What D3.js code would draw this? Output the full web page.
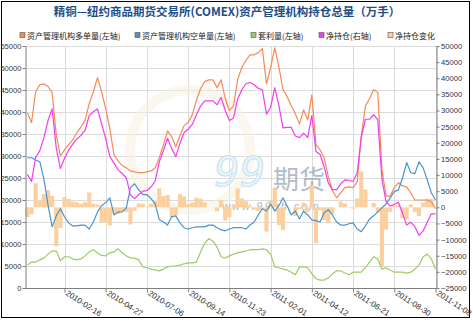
<!DOCTYPE html>
<html>
<head>
<meta charset="utf-8">
<script src="https://cdn.jsdelivr.net/npm/d3@7"></script>
<style>
  html, body { margin: 0; padding: 0; background: #fff; }
  svg { display: block; font-family: "Liberation Sans", Arial, sans-serif; }
</style>
</head>
<body>
<svg id="chart" width="473" height="322"></svg>
<script>
// Weekly COMEX copper report dates (Tuesdays), first and count
const firstDate = "2009-12-15";
const weeks = 100;

// Managed-money long positions (left axis)
const longPos = [
  39800,37600,44600,46200,46400,45800,44400,34800,30000,31400,
  32600,33700,35300,36600,38200,41900,44600,47800,44600,40700,
  36200,30300,28900,27800,27300,26600,26400,26200,26200,26400,
  26600,27300,29600,32600,35700,34400,32100,34600,36900,37600,
  39400,42600,45300,46900,47300,47300,45500,47300,43000,40300,
  41400,47300,50100,51700,53000,53000,53500,54400,46400,50100,
  54600,50300,45100,43500,41400,39600,37300,40500,38200,43900,
  32600,31400,29600,25300,22100,20500,21600,22800,23000,22800,
  24100,34600,41400,43000,45100,44400,26900,20900,20900,22800,
  23900,23200,23000,21600,20000,20000,20000,20000,19600,18000
];

// Managed-money short positions (left axis)
const shortPos = [
  29600,29600,29100,28700,24800,18900,13900,16400,18000,16200,
  14800,14100,14100,14300,14300,13400,15000,17300,18700,19400,
  20500,16600,17300,17300,18200,22800,23700,22300,21200,21200,
  20300,19100,15500,15000,14300,16200,16400,14800,13700,13400,
  13700,13900,13900,13900,14300,14300,13700,13200,13000,13400,
  13700,13700,13700,13400,14300,15000,16600,18000,17500,19100,
  17500,18700,20500,18700,16600,17500,15700,17500,16600,15500,
  15300,15000,17100,17800,16600,15000,14300,14300,14600,14800,
  13400,12800,14100,15700,16400,17300,18200,19100,20500,21900,
  22300,25000,28500,26200,26000,28700,27300,24600,21600,20000
];

// Spread positions (left axis)
const spreadPos = [
  5200,5900,5900,6400,6800,7700,8400,8400,6200,7100,
  7100,6600,6400,6600,7300,8200,8700,8000,7400,7300,
  8000,8200,8900,8000,7300,6800,6800,6400,4800,4600,
  4300,4100,3900,4300,4800,5000,5000,5200,5500,5700,
  5700,5900,8200,10200,11200,10700,9300,7100,6800,7300,
  7700,8000,8200,8400,8700,8700,8700,8900,8700,7700,
  4800,4600,4300,4100,3600,3000,4800,4800,4600,3200,
  2100,1800,1800,2300,3200,3900,3900,3400,3000,3600,
  3600,3600,4600,5900,7100,6600,4300,4600,4100,3600,
  3600,3600,3400,3600,4300,5200,7100,7700,6600,4300
];

// Net position (right axis)
const netPos = [
  10200,8000,15500,17500,21600,26900,30500,18400,12000,15200,
  17800,19600,21200,22300,23900,28500,29600,30500,25900,21300,
  15700,13700,11600,10500,9100,3800,2700,3900,5000,5200,
  6300,8200,14100,17600,21400,18200,15700,19800,23200,24200,
  25700,28700,31400,33000,33000,33000,31800,34100,30000,26900,
  27700,33600,36400,38300,38700,38000,36900,36400,28900,31000,
  37100,31600,24600,24800,24800,22100,21600,23000,21600,28400,
  17300,16400,12500,7500,5500,5500,7300,8500,8400,8000,
  10700,21800,27300,27300,28700,27100,8700,1800,400,900,
  1600,-1800,-5500,-4600,-6000,-8700,-7300,-4600,-2000,-2000
];

// Week-on-week change of the net position (right axis, columns)
const netChange = [
  -3000,-2200,7500,2000,4100,5300,3600,-12100,-6400,3200,
  2600,1800,1600,1100,1600,4600,1100,900,-4600,-4600,
  -5600,-2000,-2100,-1100,-1400,-5300,-1100,1200,1100,200,
  1100,1900,5900,3500,3800,-3200,-2500,4100,3400,1000,
  1500,3000,2700,1600,0,0,-1200,2300,-4100,-3100,
  800,5900,2800,1900,400,-700,-1100,-500,-7500,2100,
  6100,-5500,-7000,200,0,-2700,-500,1400,-1400,6800,
  -11100,-900,-3900,-5000,-2000,0,1800,1200,-100,-400,
  2700,11100,5500,0,1400,-1600,-18400,-6900,-1400,500,
  700,-3400,-3700,900,-1400,-2700,1400,2700,2600,0
];

// Axis tick labels
const xTickLabels = ["2010-02-16","2010-04-27","2010-07-06","2010-09-14","2010-11-23",
                     "2011-02-01","2011-04-12","2011-06-21","2011-08-30","2011-11-08"];
const leftTicks = d3.range(0, 55001, 5000);
const rightTicks = d3.range(-25000, 50001, 5000);

const seriesNames = ["资产管理机构多单量(左轴)","资产管理机构空单量(左轴)","套利量(左轴)","净持仓(右轴)","净持仓变化"];
const colors = ["#F58A55","#4A94CC","#9CCC62","#F53CF0","#FCCF9F"];

const parse = d3.utcParse("%Y-%m-%d"), fmt = d3.utcFormat("%Y-%m-%d");
const dates = d3.range(weeks).map(i => fmt(d3.utcDay.offset(parse(firstDate), 7 * i)));

const svg = d3.select("#chart");
const plot = { left: 25, right: 436, top: 46, bottom: 288 };

const x = d3.scalePoint().domain(dates).range([27.4, 435.5]);
const yL = d3.scaleLinear().domain([0, 55000]).range([plot.bottom, plot.top]);
const yR = d3.scaleLinear().domain([-25000, 50000]).range([plot.bottom, plot.top]);

// outer frame
svg.append("rect").attr("x", 1.5).attr("y", 1.5).attr("width", 468).attr("height", 316)
  .attr("fill", "#fff").attr("stroke", "#000").attr("stroke-width", 1);

// title
svg.append("text").attr("x", 227).attr("y", 16).attr("text-anchor", "middle")
  .attr("font-family", "'Noto Sans CJK SC', sans-serif").attr("font-weight", "bold")
  .attr("font-size", 11.5).attr("fill", "#1D4E86")
  .text("精铜—纽约商品期货交易所(COMEX)资产管理机构持仓总量（万手）");

// legend
const legendX = [20, 135, 251, 319, 388];
const lg = svg.append("g").attr("font-family", "'Noto Sans CJK SC', sans-serif").attr("font-size", 8).attr("fill", "#222");
seriesNames.forEach((n, i) => {
  lg.append("rect").attr("x", legendX[i]).attr("y", 32.5).attr("width", 5).attr("height", 5)
    .attr("fill", colors[i]).attr("stroke", "#555").attr("stroke-width", 0.6);
  lg.append("text").attr("x", legendX[i] + 7).attr("y", 38.5).text(n);
});

// grid
const grid = svg.append("g").attr("stroke", "#DCDCDC").attr("stroke-width", 1);
leftTicks.forEach(t => {
  if (t === 0) return;
  grid.append("line").attr("x1", plot.left).attr("x2", plot.right)
    .attr("y1", Math.round(yL(t)) + 0.5).attr("y2", Math.round(yL(t)) + 0.5);
});
xTickLabels.forEach(d => {
  const xv = Math.round(x(d)) + 0.5;
  grid.append("line").attr("x1", xv).attr("x2", xv).attr("y1", plot.top).attr("y2", plot.bottom);
});

// watermark
const wm = svg.append("g").attr("pointer-events", "none");
wm.append("circle").attr("cx", 190).attr("cy", 150).attr("r", 60)
  .attr("fill", "none").attr("stroke", "#F5F1DE").attr("stroke-width", 10).attr("opacity", 0.5);
wm.append("text").attr("x", 214).attr("y", 186).attr("font-size", 40).attr("font-style", "italic")
  .attr("font-family", "'DejaVu Sans', sans-serif")
  .attr("fill", "#EAF4FA").attr("stroke", "#C6E1F0").attr("stroke-width", 1).text("99");
wm.append("text").attr("x", 273).attr("y", 189).attr("font-size", 26)
  .attr("font-family", "'Noto Sans CJK SC', sans-serif").attr("fill", "#9AA7B1").attr("opacity", 0.75).text("期货");
wm.append("text").attr("x", 222).attr("y", 210).attr("font-size", 11).attr("font-style", "italic")
  .attr("letter-spacing", 2).attr("fill", "#A8A8A8").attr("opacity", 0.8).text("www.99qh.com");

// net change columns
const bw = x.step();
svg.append("g").selectAll("rect").data(netChange).join("rect")
  .attr("x", (d, i) => x(dates[i]) - bw / 2)
  .attr("width", bw)
  .attr("y", d => yR(Math.max(0, d)))
  .attr("height", d => Math.abs(yR(d) - yR(0)))
  .attr("fill", colors[4]);

// lines
const lineL = d3.line().x((d, i) => x(dates[i])).y(d => yL(d));
const lineR = d3.line().x((d, i) => x(dates[i])).y(d => yR(d));
[[longPos, lineL, 0], [shortPos, lineL, 1], [spreadPos, lineL, 2], [netPos, lineR, 3]].forEach(([data, gen, ci]) => {
  svg.append("path").attr("d", gen(data)).attr("fill", "none")
    .attr("stroke", colors[ci]).attr("stroke-width", 1.2).attr("stroke-linejoin", "round");
});

// axes
const axisStyle = g => {
  g.select(".domain").attr("stroke", "#7F7F7F");
  g.selectAll(".tick line").attr("stroke", "#7F7F7F");
  g.selectAll(".tick text").attr("fill", "#333").attr("font-size", 7.6)
    .attr("font-family", "'Liberation Sans', Arial, sans-serif");
};
svg.append("g").attr("transform", `translate(${plot.left + 0.5},0)`)
  .call(d3.axisLeft(yL).tickValues(leftTicks).tickFormat(d3.format("d")).tickSize(3).tickPadding(1).tickSizeOuter(0))
  .call(axisStyle);
svg.append("g").attr("transform", `translate(${plot.right + 0.5},0)`)
  .call(d3.axisRight(yR).tickValues(rightTicks).tickFormat(d3.format("d")).tickSize(3).tickPadding(1.5).tickSizeOuter(0))
  .call(axisStyle);
const xa = svg.append("g").attr("transform", `translate(0,${plot.bottom + 0.5})`)
  .call(d3.axisBottom(x).tickValues(xTickLabels).tickSize(4).tickSizeOuter(0))
  .call(axisStyle);
xa.select(".domain").attr("d", `M${plot.left},0H${plot.right + 1}`);
xa.selectAll(".tick text")
  .attr("font-size", 8)
  .attr("text-anchor", "start").attr("dy", null).attr("y", 0)
  .attr("transform", "translate(0,6) rotate(33)");
</script>
</body>
</html>
